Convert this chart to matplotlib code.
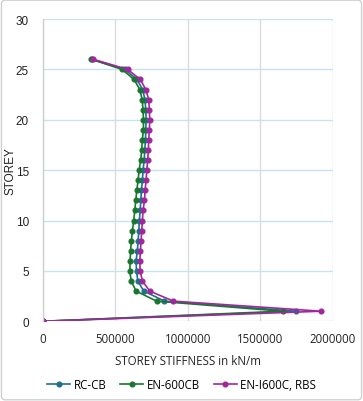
import matplotlib
matplotlib.use("Agg")
import matplotlib.pyplot as plt
from matplotlib.patches import FancyBboxPatch

storeys = list(range(0, 27))
rc_cb = [0, 1745000, 840000, 697000, 656000, 647000, 644000, 653000, 658000, 663000,
         667000, 672000, 677000, 681000, 688000, 692000, 700000, 704000, 709000, 711000,
         713000, 711000, 705000, 690000, 650000, 566000, 340000]
en_600cb = [0, 1656000, 785000, 644000, 610000, 601000, 603000, 606000, 612000, 619000,
            628000, 635000, 642000, 649000, 658000, 665000, 676000, 683000, 687000, 695000,
            695000, 692000, 686000, 670000, 630000, 548000, 335000]
en_i600c = [0, 1920000, 901000, 738000, 688000, 672000, 670000, 674000, 679000, 683000,
            688000, 692000, 702000, 706000, 713000, 718000, 724000, 729000, 731000, 736000,
            738000, 736000, 731000, 711000, 674000, 585000, 350000]

series_names = ["RC-CB", "EN-600CB", "EN-I600C, RBS"]
colors = ["#1f6f8f", "#19762f", "#a0289c"]
xticks = [0, 500000, 1000000, 1500000, 2000000]
yticks = [0, 5, 10, 15, 20, 25, 30]

fig = plt.figure(figsize=(3.63, 4.02), dpi=100)
fig.patch.set_facecolor("white")
border = FancyBboxPatch((0.004, 0.003), 0.992, 0.994, boxstyle="round,pad=0,rounding_size=0.01",
                        transform=fig.transFigure, fill=False, edgecolor="#d0d0d0", linewidth=1.0)
fig.patches.append(border)

ax = fig.add_axes([0.1176, 0.1983, 0.7989, 0.7519])
for vals, name, c in zip([rc_cb, en_600cb, en_i600c], series_names, colors):
    ax.plot(vals, storeys, color=c, marker="o", markersize=3.4, linewidth=1.2, label=name)

ax.set_xlim(0, 2000000)
ax.set_ylim(0, 30)
ax.set_xticks(xticks)
ax.set_xticklabels([str(v) for v in xticks], fontfamily="Open Sans", fontsize=8.3)
ax.set_yticks(yticks)
ax.set_yticklabels([str(v) for v in yticks], fontfamily="Liberation Sans", fontsize=8.5)
ax.tick_params(length=0, pad=8, colors="#222222")
ax.tick_params(axis="y", pad=10)

ax.grid(axis="y", color="#c5e4f2", linewidth=1.0)
ax.grid(axis="x", color="#dcdcdc", linewidth=1.0)
ax.set_axisbelow(True)
for s in ["top", "right", "bottom"]:
    ax.spines[s].set_visible(False)
ax.spines["left"].set_color("#d0d0d0")
ax.spines["left"].set_linewidth(1.0)

ax.set_xlabel("STOREY STIFFNESS in kN/m", fontfamily="Open Sans", fontsize=8.3, color="#222222", labelpad=6)
ax.set_ylabel("STOREY", fontfamily="Liberation Sans", fontsize=8.5, color="#222222")
ax.yaxis.set_label_coords(-0.09, 0.5)

leg = fig.legend(loc="center", bbox_to_anchor=(0.5, 0.042), ncol=3, frameon=False,
                 prop={"family": "Open Sans", "size": 8.3}, handlelength=2.0,
                 columnspacing=1.2, handletextpad=0.3)

fig.savefig("out.png", dpi=100)
